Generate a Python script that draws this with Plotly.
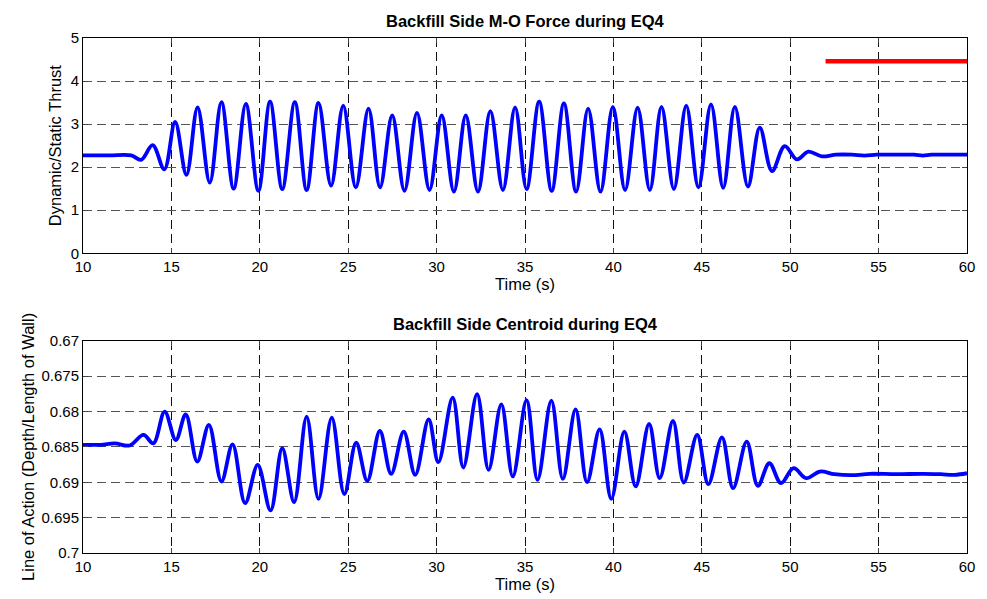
import plotly.graph_objects as go

# ---------------- data ----------------
# Top panel: dynamic/static thrust, key points (extrema) of the trace
force_t = [10.0, 11.5, 12.73, 13.29, 13.94, 14.6, 15.21, 15.85, 16.48, 17.17, 17.83, 18.52,
           19.21, 19.92, 20.58, 21.27, 21.98, 22.65, 23.32, 24.03, 24.72, 25.43, 26.15,
           26.8, 27.49, 28.18, 28.89, 29.6, 30.29, 30.98, 31.65, 32.34, 33.04, 33.75,
           34.44, 35.09, 35.8, 36.51, 37.2, 37.89, 38.57, 39.27, 39.97, 40.66, 41.37,
           42.06, 42.72, 43.42, 44.12, 44.81, 45.52, 46.21, 46.87, 47.61, 48.28, 48.97,
           49.69, 50.38, 51.03, 51.78, 52.6, 53.5, 54.2, 54.9, 56.0, 57.0, 57.5, 58.0,
           59.0, 60.0]
force_v = [2.275, 2.275, 2.275, 2.17, 2.51, 1.95, 3.05, 1.82, 3.39, 1.64, 3.51, 1.50,
           3.47, 1.45, 3.52, 1.49, 3.51, 1.47, 3.49, 1.57, 3.43, 1.53, 3.36,
           1.53, 3.20, 1.45, 3.26, 1.47, 3.20, 1.43, 3.20, 1.43, 3.30, 1.47,
           3.39, 1.49, 3.52, 1.45, 3.48, 1.43, 3.36, 1.43, 3.40, 1.47, 3.38,
           1.47, 3.40, 1.49, 3.43, 1.53, 3.46, 1.52, 3.40, 1.55, 2.92, 1.91,
           2.49, 2.18, 2.36, 2.25, 2.29, 2.29, 2.27, 2.29, 2.29, 2.29, 2.27, 2.29,
           2.29, 2.29]

# Red reference line in the top panel
ref_t = [52.0, 60.0]
ref_v = [4.46, 4.46]

# Bottom panel: line of action (depth/length of wall), key points
cent_t = [10.0, 11.0, 11.8, 12.63, 13.42, 13.98, 14.62, 15.25, 15.81, 16.46, 17.12, 17.83,
          18.46, 19.17, 19.88, 20.61, 21.27, 21.94, 22.65, 23.32, 24.07, 24.78, 25.45,
          26.08, 26.79, 27.43, 28.14, 28.79, 29.55, 30.1, 30.91, 31.51, 32.29, 32.94,
          33.66, 34.31, 35.09, 35.71, 36.49, 37.14, 37.86, 38.51, 39.22, 39.88, 40.62,
          41.26, 42.02, 42.62, 43.37, 43.98, 44.74, 45.37, 46.14, 46.77, 47.54, 48.17,
          48.82, 49.48, 50.19, 50.9, 51.68, 52.5, 53.5, 54.5, 56.0, 57.5, 58.5, 59.3, 60.0]
cent_v = [0.6847, 0.6847, 0.6845, 0.6848, 0.68331, 0.68449, 0.6800, 0.68402, 0.68040, 0.68707,
          0.68190, 0.68989, 0.68463, 0.69295, 0.68754, 0.69398, 0.68519, 0.69281, 0.68072,
          0.69234, 0.68086, 0.69168, 0.68439, 0.68980, 0.68275, 0.68881, 0.68284, 0.68895,
          0.68110, 0.68716, 0.67804, 0.68791, 0.67753, 0.68825, 0.67898, 0.68918, 0.67838,
          0.68966, 0.67846, 0.68952, 0.67969, 0.68999, 0.68251, 0.69234, 0.68284, 0.69059,
          0.68176, 0.68942, 0.68134, 0.69003, 0.68331, 0.69027, 0.68364, 0.69083, 0.68425,
          0.69051, 0.68731, 0.69013, 0.68801, 0.68942, 0.68848, 0.68886, 0.6890, 0.68880,
          0.68886, 0.68880, 0.68886, 0.68895, 0.68872]

x_ticks = [10, 15, 20, 25, 30, 35, 40, 45, 50, 55, 60]
force_ticks = [0, 1, 2, 3, 4, 5]
cent_ticks = [0.67, 0.675, 0.68, 0.685, 0.69, 0.695, 0.7]
cent_tick_text = ["0.67", "0.675", "0.68", "0.685", "0.69", "0.695", "0.7"]

top_title = "Backfill Side M-O Force during EQ4"
bot_title = "Backfill Side Centroid during EQ4"

# ---------------- figure ----------------
FONT = "Liberation Sans, Arial, sans-serif"
TICK = 15
LAB = 16.5
fig = go.Figure()

fig.add_trace(go.Scatter(x=force_t, y=force_v, mode="lines",
                         line=dict(color="#0000FF", width=3.8, shape="spline", smoothing=1.0),
                         xaxis="x", yaxis="y", showlegend=False))
fig.add_trace(go.Scatter(x=ref_t, y=ref_v, mode="lines",
                         line=dict(color="#FF0000", width=4.5),
                         xaxis="x", yaxis="y", showlegend=False))
fig.add_trace(go.Scatter(x=cent_t, y=cent_v, mode="lines",
                         line=dict(color="#0000FF", width=3.8, shape="spline", smoothing=1.0),
                         xaxis="x2", yaxis="y2", showlegend=False))

common_x = dict(range=[10, 60], tickvals=x_ticks, ticks="inside", ticklen=5,
                showline=True, linecolor="black", linewidth=1, mirror="ticks",
                showgrid=True, gridcolor="#111111", griddash="9px,5px", gridwidth=1,
                zeroline=False, tickfont=dict(family=FONT, size=TICK, color="black"),
                title=dict(text="Time (s)", font=dict(family=FONT, size=LAB, color="black"),
                           standoff=0))
common_y = dict(ticks="inside", ticklen=5, showline=True, linecolor="black", linewidth=1,
                mirror="ticks", showgrid=True, gridcolor="#555555", griddash="9px,5px",
                gridwidth=1, zeroline=False,
                tickfont=dict(family=FONT, size=TICK, color="black"))

fig.update_layout(
    width=987, height=599,
    margin=dict(l=83, r=12, t=38, b=44),
    plot_bgcolor="white", paper_bgcolor="white",
    xaxis=dict(domain=[0, 1], anchor="y", **common_x),
    yaxis=dict(domain=[0.582, 1], anchor="x", range=[0, 5], tickvals=force_ticks,
               title=dict(text="Dynamic/Static Thrust",
                          font=dict(family=FONT, size=LAB, color="black"), standoff=4),
               **common_y),
    xaxis2=dict(domain=[0, 1], anchor="y2", **common_x),
    yaxis2=dict(domain=[0, 0.412], anchor="x2", range=[0.7, 0.67], tickvals=cent_ticks,
                ticktext=cent_tick_text,
                title=dict(text="Line of Action (Depth/Length of Wall)",
                           font=dict(family=FONT, size=LAB, color="black"), standoff=2),
                **common_y),
    annotations=[
        dict(text="<b>" + top_title + "</b>", x=0.5, y=1, xref="paper", yref="paper",
             xanchor="center", yanchor="bottom", yshift=6, showarrow=False,
             font=dict(family=FONT, size=LAB, color="black")),
        dict(text="<b>" + bot_title + "</b>", x=0.5, y=0.412, xref="paper", yref="paper",
             xanchor="center", yanchor="bottom", yshift=6, showarrow=False,
             font=dict(family=FONT, size=LAB, color="black")),
    ],
)

fig.write_html("out.html")
